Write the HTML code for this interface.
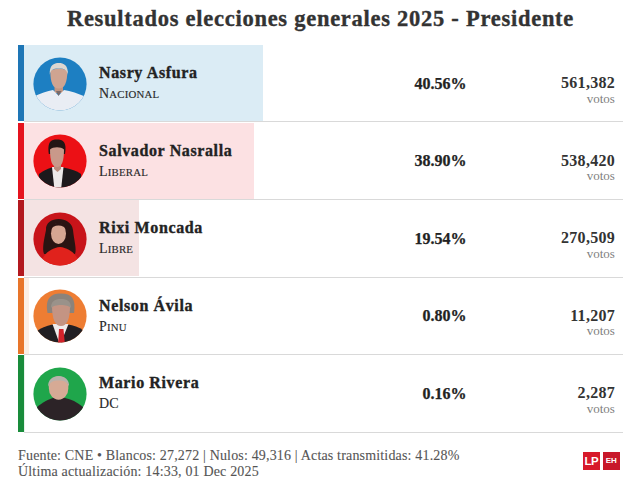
<!DOCTYPE html>
<html><head><meta charset="utf-8"><title>Resultados elecciones generales 2025 - Presidente</title>
<style>
html,body{margin:0;padding:0;background:#ffffff;}
body{width:640px;height:490px;position:relative;overflow:hidden;font-family:"Liberation Serif",serif;color:#2b2b2b;}
.a{position:absolute;white-space:nowrap;line-height:1;}
.title{left:0;width:641px;text-align:center;top:8.3px;font-size:22.5px;font-weight:bold;color:#333;letter-spacing:0.73px;-webkit-text-stroke:0.35px #333;}
.row{position:absolute;left:0;width:640px;}
.bar{position:absolute;left:18px;width:6px;}
.fill{position:absolute;left:24px;}
.sep{position:absolute;left:24px;width:599px;height:1px;background:#d9d9d9;}
.ph{position:absolute;left:33px;width:54px;height:54px;}
.name{left:99px;font-size:16px;font-weight:bold;color:#222;letter-spacing:0.62px;-webkit-text-stroke:0.35px #222;}
.party{left:99px;font-size:14px;color:#2a2a2a;letter-spacing:0.2px;-webkit-text-stroke:0.15px #2a2a2a;}
.sc{font-size:10.8px;}
.pct{right:174px;margin-right:-0.5px;font-size:16px;font-weight:bold;color:#222;letter-spacing:0px;-webkit-text-stroke:0.25px #222;}
.votes{right:25.2px;margin-right:-0.3px;font-size:16px;font-weight:bold;color:#333;letter-spacing:0.3px;}
.votos{right:25.2px;font-size:13px;color:#7f7f7f;}
.foot{left:18px;font-size:14px;color:#555;letter-spacing:0.17px;-webkit-text-stroke:0.1px #555;}
.logo{position:absolute;top:452px;height:18px;background:#d7192a;color:#fff;font-family:"Liberation Sans",sans-serif;font-weight:bold;text-align:center;line-height:18px;}
</style></head><body>
<div class="a title">Resultados elecciones generales 2025 - Presidente</div>
<div class="bar" style="top:45.00px;height:76.40px;background:#1e76b6"></div>
<div class="fill" style="top:45.00px;height:76.40px;width:239.30px;background:#dbecf5"></div>
<div class="sep" style="top:121.40px"></div>
<div class="ph" style="top:56.50px"><svg width="54" height="54" viewBox="0 0 54 54"><defs><clipPath id="c1"><circle cx="27" cy="27" r="26.6"/></clipPath></defs><circle cx="27" cy="27" r="26.6" fill="#1d7fc2"/>
<g clip-path="url(#c1)">
<path d="M21.5 27 L30 27 L30 36 L21.5 36 Z" fill="#c29682"/>
<path d="M-2 60 L-2 41 C6 37 14 34 20 33 L25.5 38.5 L31 33 C38 34 46 37 56 41 L56 60 Z" fill="#e9edf4"/>
<path d="M17.3 14 C17.3 26 20 31.5 25.8 31.5 C31.5 31.5 34.3 26 34.3 14 C31 10.5 21 10.5 17.3 14 Z" fill="#cfa491"/>
<path d="M16.8 18 C16 8 21 6 25.8 6 C30.5 6 35.5 8 34.8 18 C34 13 32 11.5 25.8 11.5 C19.5 11.5 17.5 13 16.8 18 Z" fill="#dcd6d0"/>
<path d="M23 34 L25.5 39 L28.5 34 Z" fill="#7a6a6a"/>
</g></svg></div>
<div class="a name" style="top:65.00px">Nasry Asfura</div>
<div class="a party" style="top:87.00px">N<span class="sc">ACIONAL</span></div>
<div class="a pct" style="top:75.50px">40.56%</div>
<div class="a votes" style="top:75.00px">561,382</div>
<div class="a votos" style="top:91.50px">votos</div>
<div class="bar" style="top:122.55px;height:76.40px;background:#e5131e"></div>
<div class="fill" style="top:122.55px;height:76.40px;width:229.51px;background:#fce1e3"></div>
<div class="sep" style="top:198.95px"></div>
<div class="ph" style="top:134.05px"><svg width="54" height="54" viewBox="0 0 54 54"><defs><clipPath id="c2"><circle cx="27" cy="27" r="26.6"/></clipPath></defs><circle cx="27" cy="27" r="26.6" fill="#ec1015"/>
<g clip-path="url(#c2)">
<path d="M5 60 L6 40 C12 36 16 34 19 33.5 L30 33.5 C34 34 42 36 48 40 L49 60 Z" fill="#1d191c"/>
<path d="M19 33 L30.5 33 L28 56 L21.5 56 Z" fill="#ece8e8"/>
<path d="M21 28 L28 28 L28 35 L24.5 38 L21 35 Z" fill="#b98b7b"/>
<path d="M15.8 20 C14 7 18.5 5.5 23.8 5.5 C29.5 5.5 34 7 32 20 Z" fill="#221614"/>
<path d="M17 15.5 C17 28 19.5 33 24 33 C28.5 33 31 28 31 15.5 C28 12.5 20 12.5 17 15.5 Z" fill="#c9998a"/>
</g></svg></div>
<div class="a name" style="top:142.55px">Salvador Nasralla</div>
<div class="a party" style="top:164.55px">L<span class="sc">IBERAL</span></div>
<div class="a pct" style="top:153.05px">38.90%</div>
<div class="a votes" style="top:152.55px">538,420</div>
<div class="a votos" style="top:169.05px">votos</div>
<div class="bar" style="top:200.10px;height:76.40px;background:#b3191f"></div>
<div class="fill" style="top:200.10px;height:76.40px;width:115.29px;background:#f4e3e3"></div>
<div class="sep" style="top:276.50px"></div>
<div class="ph" style="top:211.60px"><svg width="54" height="54" viewBox="0 0 54 54"><defs><clipPath id="c3"><circle cx="27" cy="27" r="26.6"/></clipPath></defs><circle cx="27" cy="27" r="26.6" fill="#c8141a"/>
<g clip-path="url(#c3)">
<path d="M13 18 C12 4 38 3 40 18 C41 28 44 38 42 42 L11 42 C9 36 11 28 13 18 Z" fill="#2a1412"/>
<path d="M4 60 C8 44 16 36 27 35 C38 36 46 44 50 60 Z" fill="#e0221c"/>
<ellipse cx="25.5" cy="21.5" rx="7.5" ry="10.5" fill="#d6a692"/>
<path d="M17 18 C18 9 33 8 34 18 C31 12 20 12 17 18 Z" fill="#2a1412"/>
</g></svg></div>
<div class="a name" style="top:220.10px">Rixi Moncada</div>
<div class="a party" style="top:242.10px">L<span class="sc">IBRE</span></div>
<div class="a pct" style="top:230.60px">19.54%</div>
<div class="a votes" style="top:230.10px">270,509</div>
<div class="a votos" style="top:246.60px">votos</div>
<div class="bar" style="top:277.65px;height:76.40px;background:#e8752a"></div>
<div class="fill" style="top:277.65px;height:76.40px;width:4.72px;background:#fcefe6"></div>
<div class="sep" style="top:354.05px"></div>
<div class="ph" style="top:289.15px"><svg width="54" height="54" viewBox="0 0 54 54"><defs><clipPath id="c4"><circle cx="27" cy="27" r="26.6"/></clipPath></defs><circle cx="27" cy="27" r="26.6" fill="#ee7d33"/>
<g clip-path="url(#c4)">
<path d="M14.5 24 C12 10 17 4.5 28 4.5 C39 4.5 43 10 41 24 Z" fill="#8b837b"/>
<path d="M3 60 L4 42 C10 38 16 36 20 35.5 L35 35.5 C40 36 46 38 51 42 L51 60 Z" fill="#221f23"/>
<path d="M19.5 35 L27 56 L35.5 35 Z" fill="#f0ecec"/>
<path d="M26 40 L30.5 40 L32 56 L25 56 Z" fill="#d1222a"/>
<path d="M19 17 C19 30 22 37 28 37 C34 37 37 30 37 17 C33 13 23 13 19 17 Z" fill="#c49483"/>
<path d="M18 19 C18 12 22 10 28 10 C34 10 38 12 38 19 C35 15 21 15 18 19 Z" fill="#9a928a"/>
</g></svg></div>
<div class="a name" style="top:297.65px">Nelson Ávila</div>
<div class="a party" style="top:319.65px">P<span class="sc">INU</span></div>
<div class="a pct" style="top:308.15px">0.80%</div>
<div class="a votes" style="top:307.65px">11,207</div>
<div class="a votos" style="top:324.15px">votos</div>
<div class="bar" style="top:355.20px;height:76.40px;background:#198c3b"></div>
<div class="fill" style="top:355.20px;height:76.40px;width:0.94px;background:#e6f3ea"></div>
<div class="sep" style="top:431.60px"></div>
<div class="ph" style="top:366.70px"><svg width="54" height="54" viewBox="0 0 54 54"><defs><clipPath id="c5"><circle cx="27" cy="27" r="26.6"/></clipPath></defs><circle cx="27" cy="27" r="26.6" fill="#1fa64b"/>
<g clip-path="url(#c5)">
<path d="M3 60 L4 40 C10 35 16 32 20 31 L32 31 C38 32 44 35 50 40 L51 60 Z" fill="#2c2327"/>
<ellipse cx="25.6" cy="21" rx="9.8" ry="11.8" fill="#d6aa95"/>
<path d="M15.3 20 C13.5 6 37.5 5 36 20 C34.5 14.5 30.5 13.5 25.6 13.5 C20.5 13.5 17 14.5 15.3 20 Z" fill="#b8b2ab"/>
</g></svg></div>
<div class="a name" style="top:375.20px">Mario Rivera</div>
<div class="a party" style="top:397.20px">DC</div>
<div class="a pct" style="top:385.70px">0.16%</div>
<div class="a votes" style="top:385.20px">2,287</div>
<div class="a votos" style="top:401.70px">votos</div>
<div class="a foot" style="top:449px">Fuente: CNE • Blancos: 27,272 | Nulos: 49,316 | Actas transmitidas: 41.28%</div>
<div class="a foot" style="top:465.3px">Última actualización: 14:33, 01 Dec 2025</div>
<div class="logo" style="left:583px;width:17px;font-size:11.5px;letter-spacing:-0.6px;text-indent:-0.6px">LP</div>
<div class="logo" style="left:603px;width:16.5px;font-size:8px;background:#c8182a">EH</div>
</body></html>
